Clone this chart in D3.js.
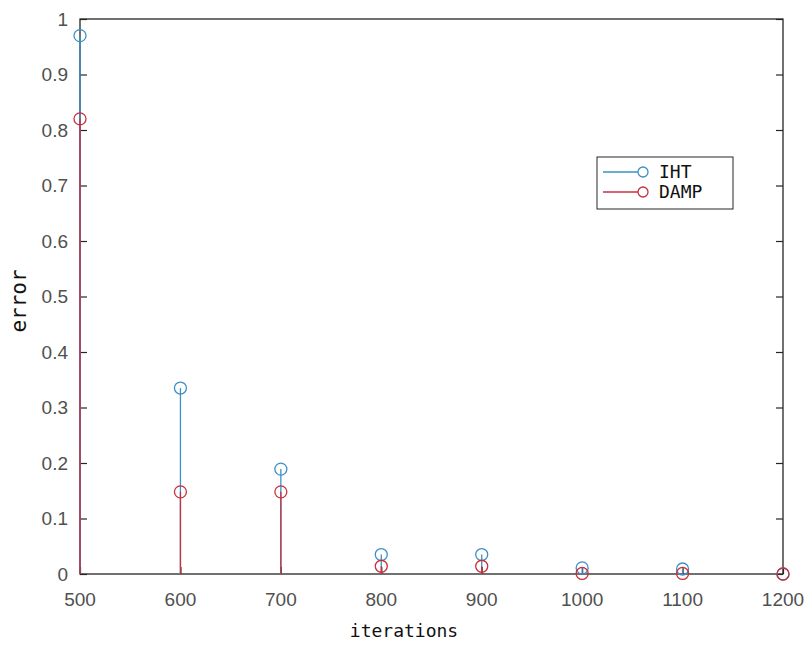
<!DOCTYPE html>
<html>
<head>
<meta charset="utf-8">
<script src="https://cdn.jsdelivr.net/npm/d3@7"></script>
<style>
  body { margin: 0; background: #fff; }
</style>
</head>
<body>
<div id="chart"></div>
<script>
// data
var iterations = [500, 600, 700, 800, 900, 1000, 1100, 1200];
var iht_error  = [0.97, 0.335, 0.189, 0.035, 0.035, 0.011, 0.009, 0.0];
var damp_error = [0.82, 0.148, 0.148, 0.014, 0.014, 0.001, 0.001, 0.0];
var x_ticks = [500, 600, 700, 800, 900, 1000, 1100, 1200];
var y_ticks = [0, 0.1, 0.2, 0.3, 0.4, 0.5, 0.6, 0.7, 0.8, 0.9, 1];
var series_names = ["IHT", "DAMP"];
var series_colors = ["#3d90c6", "#c9303d"];

var full_width = 808, full_height = 650;
var margin = {top: 19, right: 25, bottom: 76, left: 80};
var width = full_width - margin.left - margin.right,
    height = full_height - margin.top - margin.bottom;

var svg = d3.select("#chart")
    .append("svg")
    .attr("width", full_width)
    .attr("height", full_height)
    .append("g")
    .attr("transform", "translate(" + margin.left + "," + margin.top + ")");

var x = d3.scaleLinear().domain([500, 1200]).range([0, width]);
var y = d3.scaleLinear().domain([0, 1]).range([height, 0]);

var axis_color = "#262626";
var tick_len = 7;

// box
svg.append("rect")
    .attr("x", 0).attr("y", 0)
    .attr("width", width).attr("height", height)
    .style("fill", "none")
    .style("stroke", axis_color)
    .style("stroke-width", 1.3);

// y ticks on both sides, x ticks at the bottom, all pointing inward
var yLeft = svg.append("g")
    .call(d3.axisRight(y).tickValues(y_ticks).tickSize(tick_len).tickFormat(""));
var yRight = svg.append("g")
    .attr("transform", "translate(" + width + ",0)")
    .call(d3.axisLeft(y).tickValues(y_ticks).tickSize(tick_len).tickFormat(""));
var xBottom = svg.append("g")
    .attr("transform", "translate(0," + height + ")")
    .call(d3.axisTop(x).tickValues(x_ticks).tickSize(tick_len).tickFormat(""));
[yLeft, yRight, xBottom].forEach(function(g) {
    g.select(".domain").remove();
    g.selectAll("line").style("stroke", axis_color).style("stroke-width", 1.2);
});

// tick labels
svg.selectAll(".ylab")
    .data(y_ticks)
    .enter().append("text")
    .attr("class", "ylab")
    .attr("x", -12)
    .attr("y", function(d) { return y(d); })
    .attr("dy", "0.36em")
    .attr("text-anchor", "end")
    .style("font", "19px 'Liberation Sans', Arial, sans-serif")
    .style("fill", "#505050")
    .text(function(d) { return d3.format("")(d); });

svg.selectAll(".xlab")
    .data(x_ticks)
    .enter().append("text")
    .attr("class", "xlab")
    .attr("x", function(d) { return x(d); })
    .attr("y", height + 32)
    .attr("text-anchor", "middle")
    .style("font", "19px 'Liberation Sans', Arial, sans-serif")
    .style("fill", "#505050")
    .text(function(d) { return d; });

// stems
var series = [iht_error, damp_error];
series.forEach(function(vals, s) {
    var pts = iterations.map(function(it, i) { return {it: it, v: vals[i]}; });
    var g = svg.append("g");
    g.selectAll("line")
        .data(pts)
        .enter().append("line")
        .attr("x1", function(d) { return x(d.it); })
        .attr("x2", function(d) { return x(d.it); })
        .attr("y1", y(0))
        .attr("y2", function(d) { return y(d.v); })
        .style("stroke", series_colors[s])
        .style("stroke-width", 1.3);
    g.selectAll("circle")
        .data(pts)
        .enter().append("circle")
        .attr("cx", function(d) { return x(d.it); })
        .attr("cy", function(d) { return y(d.v); })
        .attr("r", 6)
        .style("fill", "none")
        .style("stroke", series_colors[s])
        .style("stroke-width", 1.3);
});

// axis labels
svg.append("text")
    .attr("x", 324)
    .attr("y", height + 63)
    .attr("text-anchor", "middle")
    .style("font", "18px 'DejaVu Sans Mono', monospace")
    .style("fill", "#111")
    .text("iterations");

svg.append("text")
    .attr("transform", "translate(" + (-54) + "," + (301 - margin.top) + ") rotate(-90)")
    .attr("text-anchor", "middle")
    .style("font", "21px 'DejaVu Sans Mono', monospace")
    .style("fill", "#111")
    .text("error");

// legend
var lg = svg.append("g")
    .attr("transform", "translate(" + (597 - margin.left) + "," + (157 - margin.top) + ")");
lg.append("rect")
    .attr("width", 136).attr("height", 52)
    .style("fill", "#fff")
    .style("stroke", axis_color)
    .style("stroke-width", 1);
series_names.forEach(function(name, s) {
    var yy = 15 + s * 20;
    lg.append("line")
        .attr("x1", 6).attr("x2", 41)
        .attr("y1", yy).attr("y2", yy)
        .style("stroke", series_colors[s])
        .style("stroke-width", 1.3);
    lg.append("circle")
        .attr("cx", 46).attr("cy", yy).attr("r", 5)
        .style("fill", "none")
        .style("stroke", series_colors[s])
        .style("stroke-width", 1.3);
    lg.append("text")
        .attr("x", 62).attr("y", yy)
        .attr("dy", "0.36em")
        .style("font", "18px 'DejaVu Sans Mono', monospace")
        .style("fill", "#111")
        .text(name);
});
</script>
</body>
</html>
